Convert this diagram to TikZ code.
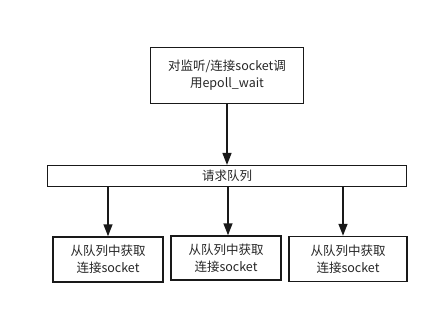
\documentclass[tikz,border=0pt]{standalone}
\usepackage{fontspec}
\setmainfont{Noto Sans CJK SC}
\usetikzlibrary{arrows.meta}
\begin{document}
\begin{tikzpicture}[x=1pt,y=-1pt,
  box/.style={draw=black!90,line width=1.5pt,fill=white,align=center,inner sep=0pt,font=\fontsize{12.5}{17}\selectfont,text=black!85},
  arr/.style={draw=black!90,line width=1.6pt,-{Triangle[length=12pt,width=9pt]}}]
\useasboundingbox (0,0) rectangle (437,314);
\node[box,minimum width=153pt,minimum height=56pt] (top) at (227,75.5) {对监听/连接socket调\\用epoll\_wait};
\node[box,line width=1.2pt,minimum width=359pt,minimum height=21pt] (q) at (227,176) {请求队列};
\node[box,minimum width=110pt,minimum height=45pt] (b1) at (108,259.5) {从队列中获取\\连接socket};
\node[box,minimum width=110pt,minimum height=44pt] (b2) at (226,258) {从队列中获取\\连接socket};
\node[box,minimum width=118pt,minimum height=45pt] (b3) at (348,259) {从队列中获取\\连接socket};
\draw[arr] (top.south) -- (q.north);
\draw[arr] (q.south -| b1.north) -- (b1.north);
\draw[arr] ([xshift=2pt]q.south -| b2.north) -- ([xshift=2pt]b2.north);
\draw[arr] ([xshift=-5pt]q.south -| b3.north) -- ([xshift=-5pt]b3.north);
\end{tikzpicture}
\end{document}
